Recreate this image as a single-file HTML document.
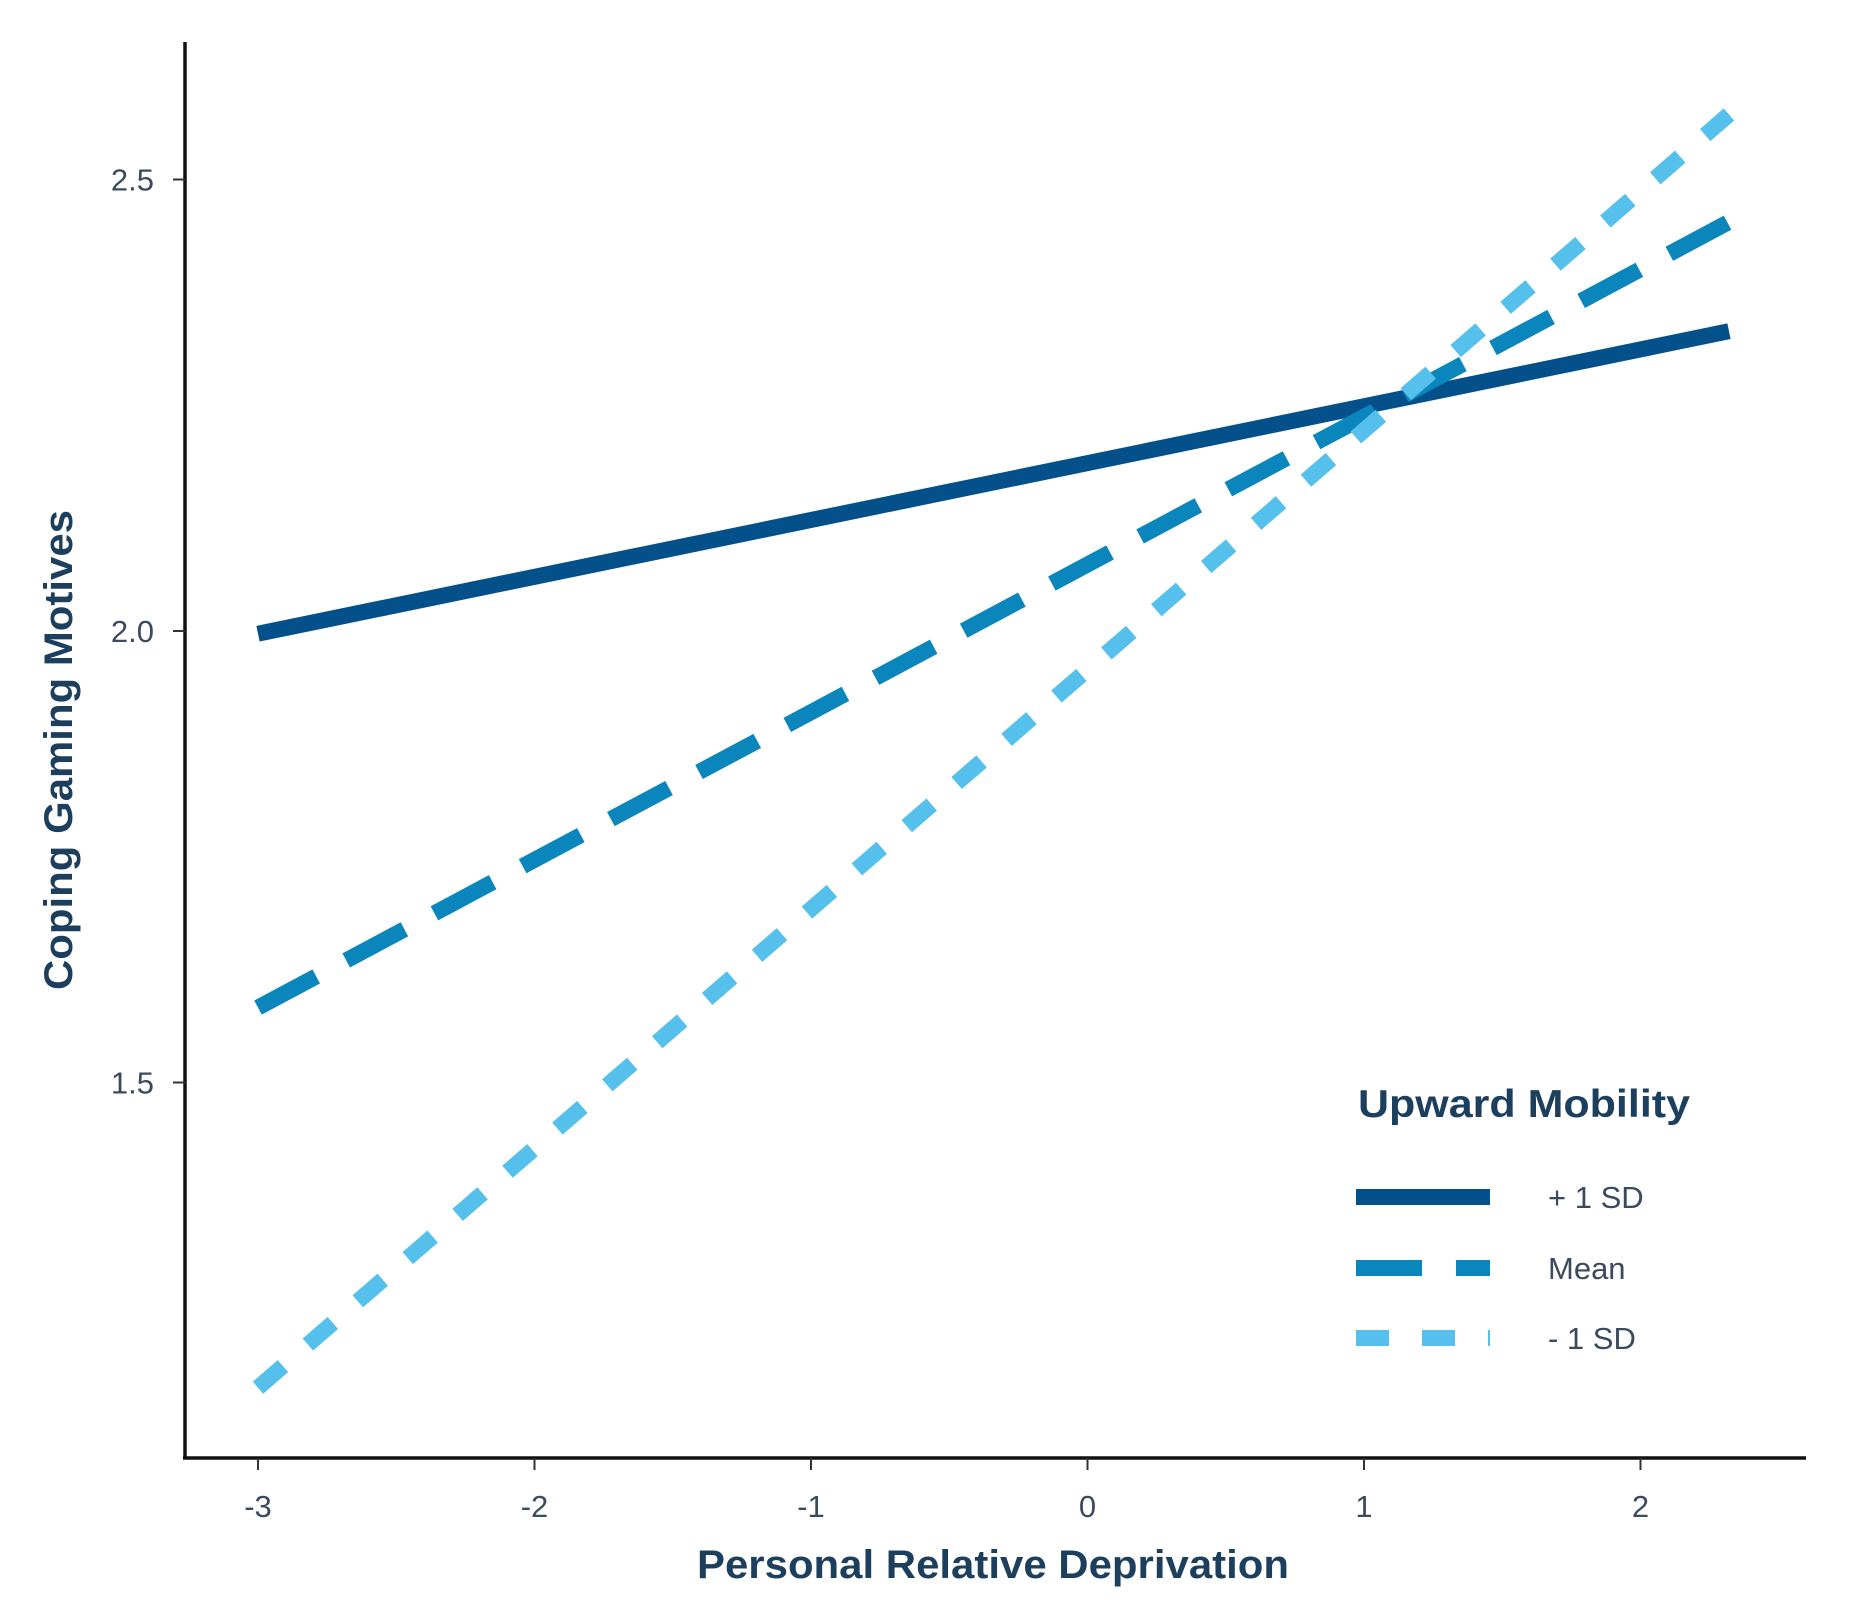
<!DOCTYPE html>
<html><head><meta charset="utf-8"><style>
html,body{margin:0;padding:0;background:#fff;}
svg{display:block;}
text{font-family:"Liberation Sans",sans-serif;}
</style></head><body>
<svg id="chart" width="1849" height="1619" viewBox="0 0 1849 1619" xmlns="http://www.w3.org/2000/svg">
<g id="axes"></g>
<g id="series"></g>
<text x="993" y="1578" text-anchor="middle" font-size="40" font-weight="bold" fill="#1d3f5e" textLength="592" lengthAdjust="spacingAndGlyphs">Personal Relative Deprivation</text>
<text transform="translate(72,750) rotate(-90)" text-anchor="middle" font-size="40" font-weight="bold" fill="#1d3f5e" textLength="480" lengthAdjust="spacingAndGlyphs">Coping Gaming Motives</text>
<g id="legend">
<text x="1358" y="1117" font-size="39" font-weight="bold" fill="#1d3f5e" textLength="332" lengthAdjust="spacingAndGlyphs">Upward Mobility</text>
</g>
</svg>
<script>
const xTicks=[-3,-2,-1,0,1,2];
const yTicks=[1.5,2.0,2.5];
const yTickLabels=["1.5","2.0","2.5"];
const seriesNames=["+ 1 SD","Mean","- 1 SD"];
const xValues=[-3,2.32];
const plusSD=[1.997,2.332];
const meanVals=[1.583,2.453];
const minusSD=[1.162,2.572];

const NS="http://www.w3.org/2000/svg";
function sx(v){return 258+(v+3)*276.5;}
function sy(v){return 631-(v-2)*903;}
function mk(tag,attrs,parent){const e=document.createElementNS(NS,tag);for(const k in attrs)e.setAttribute(k,attrs[k]);parent.appendChild(e);return e;}
const axes=document.getElementById('axes');
let e=mk('line',{x1:185,y1:42,x2:185,y2:1459,stroke:'#111','stroke-width':3.5},axes);


e=mk('line',{x1:183,y1:1458,x2:1806,y2:1458,stroke:'#111','stroke-width':3.5},axes);


xTicks.forEach(t=>{
  const x=sx(t);
  let l=mk('line',{x1:x,y1:1458,x2:x,y2:1470,stroke:'#333','stroke-width':2},axes);
  
  
  let tx=mk('text',{x:x,y:1517,'text-anchor':'middle','font-size':31,fill:'#3b4a5c'},axes);
  tx.textContent=String(t);
  
  
});
yTicks.forEach((t,i)=>{
  const y=sy(t);
  let l=mk('line',{x1:173,y1:y,x2:185,y2:y,stroke:'#333','stroke-width':2},axes);
  
  
  let tx=mk('text',{x:154,y:y+11,'text-anchor':'end','font-size':31,fill:'#3b4a5c'},axes);
  tx.textContent=yTickLabels[i];
  
  
});
const ser=document.getElementById('series');
const defs=[{v:plusSD,c:'#03508a',d:'none',n:'line-plus-1sd'},{v:meanVals,c:'#0a86bc',d:'66 34',n:'line-mean'},{v:minusSD,c:'#56c0ec',d:'33 33',n:'line-minus-1sd'}];
defs.forEach(s=>{
  const p=mk('line',{x1:sx(xValues[0]),y1:sy(s.v[0]),x2:sx(xValues[1]),y2:sy(s.v[1]),stroke:s.c,'stroke-width':16,'stroke-dasharray':s.d},ser);
  
  
});
const lg=document.getElementById('legend');
const rowsY=[1197,1268,1338];
defs.forEach((s,i)=>{
  const k=mk('line',{x1:1356,y1:rowsY[i],x2:1490,y2:rowsY[i],stroke:s.c,'stroke-width':16,'stroke-dasharray':s.d},lg);
  
  
  const t=mk('text',{x:1548,y:rowsY[i]+11,'font-size':31,fill:'#3b4a5c'},lg);
  t.textContent=seriesNames[i];
  
  
});
</script>
</body></html>
